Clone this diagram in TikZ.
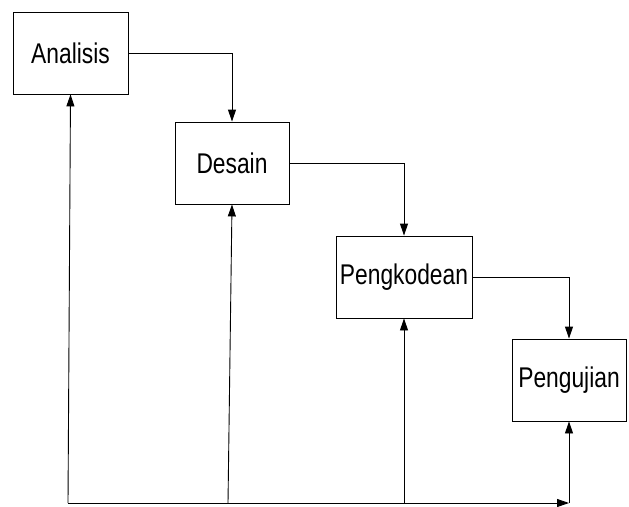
\documentclass[tikz,border=0pt]{standalone}
\usepackage{fontspec}
\setmainfont{Liberation Sans}[FakeStretch=0.8]
\usetikzlibrary{arrows.meta}
\begin{document}
\begin{tikzpicture}[x=1pt,y=-1pt,
  stage/.style={draw, line width=0.9pt, minimum height=82pt, inner sep=0pt, font=\fontsize{28.5}{32}\selectfont},
  flow/.style={line width=0.9pt, -{Triangle[length=12pt,width=8pt]}}]
\useasboundingbox (0,0) rectangle (629,506);
\node[stage, minimum width=115pt] (A) at (70.5,53) {Analisis};
\node[stage, minimum width=114pt] (D) at (232,163) {Desain};
\node[stage, minimum width=136pt] (P) at (404,277) {Pengkodean};
\node[stage, minimum width=114pt] (U) at (569,380) {Pengujian};
\draw[flow] (A.east) -| (D.north);
\draw[flow] (D.east) -| (P.north);
\draw[flow] (P.east) -| (U.north);
\coordinate (b0) at (68,503);
\coordinate (b1) at (228,503);
\coordinate (b2) at (404,503);
\coordinate (b3) at (569,503);
\draw[flow] (b0) -- (b3);
\draw[flow] (b0) -- (A.south);
\draw[flow] (b1) -- (D.south);
\draw[flow] (b2) -- (P.south);
\draw[flow] (b3) -- (U.south);
\end{tikzpicture}
\end{document}
